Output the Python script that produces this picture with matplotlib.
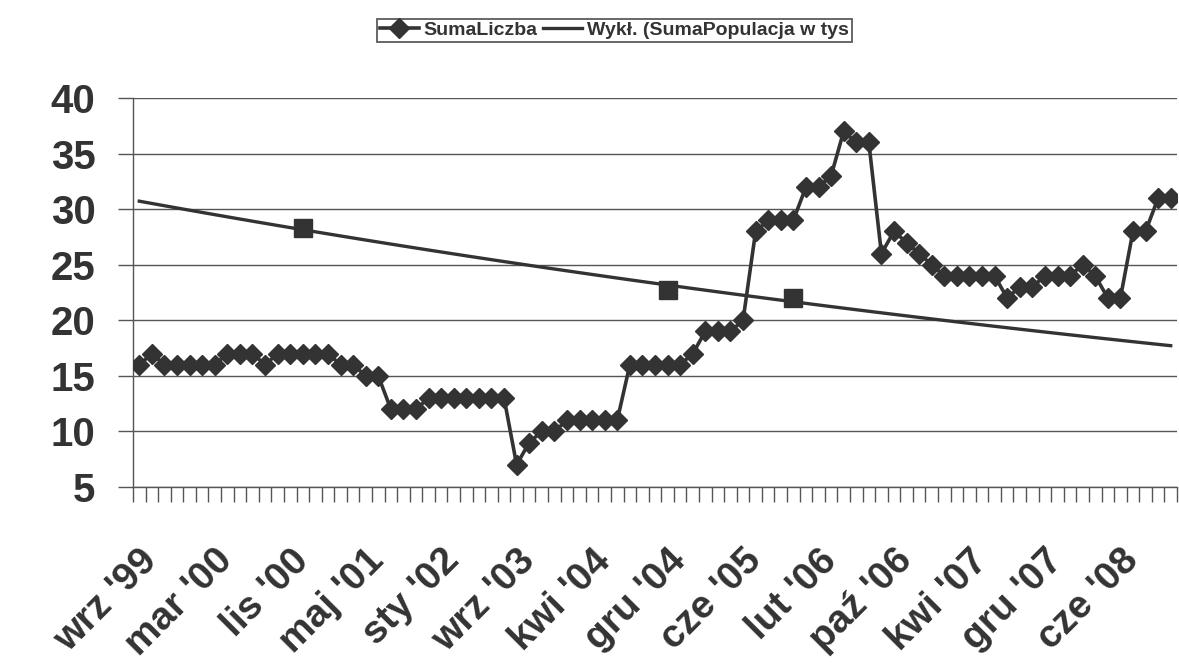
import numpy as np
import matplotlib
matplotlib.use("Agg")
from matplotlib import pyplot as plt
from matplotlib.transforms import ScaledTranslation

plt.rcParams['font.family'] = ['Liberation Sans', 'DejaVu Sans']

# SumaLiczba, one value per category (83 categories)
suma_liczba = [16, 17, 16, 16, 16, 16, 16, 17, 17, 17, 16, 17, 17, 17, 17, 17, 16, 16, 15, 15,
               12, 12, 12, 13, 13, 13, 13, 13, 13, 13, 7, 9, 10, 10, 11, 11, 11, 11, 11,
               16, 16, 16, 16, 16, 17, 19, 19, 19, 20, 28, 29, 29, 29, 32, 32, 33, 37, 36, 36,
               26, 28, 27, 26, 25, 24, 24, 24, 24, 24, 22, 23, 23, 24, 24, 24, 25, 24, 22, 22,
               28, 28, 31, 31]

# SumaPopulacja w tys - only three known points
pop_idx = [13, 42, 52]
pop_val = [28.3, 22.7, 22.0]

tick_labels = ["wrz '99", "mar '00", "lis '00", "maj '01", "sty '02", "wrz '03", "kwi '04",
               "gru '04", "cze '05", "lut '06", "paź '06", "kwi '07", "gru '07", "cze '08"]
label_step = 6

ink = '#333333'
x = np.arange(len(suma_liczba))

# exponential trend line ("Wykł.") fitted to the population points
b, ln_a = np.polyfit(pop_idx, np.log(pop_val), 1)
trend = np.exp(ln_a + b * x)

fig = plt.figure(figsize=(11.79, 6.66), dpi=100)
ax = fig.add_axes([0.1128, 0.2688, 0.8855, 0.584])

ax.plot(x, suma_liczba, color=ink, lw=2.6, marker='D', ms=10.5, mec=ink, mfc=ink,
        label='SumaLiczba', zorder=4)
ax.plot(x, trend, color=ink, lw=2.4, label='Wykł. (SumaPopulacja w tys', zorder=3)
ax.plot(pop_idx, pop_val, ls='none', marker='s', ms=13.5, color=ink, zorder=5)

ax.set_xlim(-0.5, len(x) - 0.5)
ax.set_ylim(5, 40)
ax.set_yticks(range(5, 41, 5))
ax.yaxis.grid(True, color='#555555', lw=1.0)
ax.set_axisbelow(True)

ax.set_xticks(x[::label_step])
ax.set_xticklabels(tick_labels, rotation=45, ha='right', va='top', rotation_mode='anchor',
                   fontsize=28, fontweight='bold', color=ink)
shift = ScaledTranslation(-0.22, 0, fig.dpi_scale_trans)
for lab in ax.get_xticklabels():
    lab.set_transform(lab.get_transform() + shift)
ax.set_xticks(np.arange(len(x) + 1) - 0.5, minor=True)
ax.tick_params(axis='x', which='major', length=0, pad=40)
ax.tick_params(axis='x', which='minor', length=11, width=1.0, color='#555555', direction='out')
ax.tick_params(axis='y', length=11, width=1.0, color='#555555', pad=16)
for lab in ax.get_yticklabels():
    lab.set_fontsize(29)
    lab.set_fontweight('bold')
    lab.set_color(ink)

for s in ['top', 'right']:
    ax.spines[s].set_visible(False)
for s in ['left', 'bottom']:
    ax.spines[s].set_color('#555555')
    ax.spines[s].set_linewidth(1.0)

leg = fig.legend(loc='upper center', bbox_to_anchor=(0.521, 0.972), ncol=2, frameon=True,
                 fancybox=False, edgecolor=ink, handlelength=2.0, columnspacing=0.3,
                 handletextpad=0.25, borderpad=0.15, borderaxespad=0.0,
                 prop={'weight': 'bold', 'size': 14})
leg.get_frame().set_linewidth(1.3)
for t in leg.get_texts():
    t.set_color(ink)

fig.savefig('out.png', dpi=100)
